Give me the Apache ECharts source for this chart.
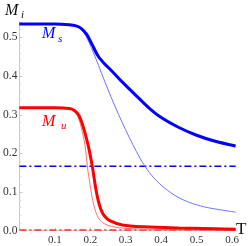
<!DOCTYPE html>
<html><head><meta charset="utf-8">
<script src="https://cdn.jsdelivr.net/npm/echarts@6/dist/echarts.min.js"></script>
<style>html,body{margin:0;padding:0;background:#fff}#c{width:249px;height:246px}</style>
</head><body><div id="c"></div>
<script>
const msThickT = [0, 0.05, 0.10, 0.14, 0.16, 0.175, 0.19, 0.205, 0.222, 0.24, 0.26, 0.29, 0.33, 0.37, 0.40, 0.45, 0.50, 0.55, 0.61];
const msThickV = [0.535, 0.535, 0.535, 0.533, 0.530, 0.523, 0.508, 0.482, 0.452, 0.432, 0.414, 0.385, 0.349, 0.314, 0.293, 0.267, 0.247, 0.232, 0.219];
const msThinT = [0, 0.10, 0.14, 0.16, 0.175, 0.19, 0.215, 0.25, 0.29, 0.33, 0.354, 0.38, 0.41, 0.445, 0.48, 0.52, 0.56, 0.61];
const msThinV = [0.535, 0.535, 0.533, 0.529, 0.520, 0.500, 0.447, 0.365, 0.280, 0.205, 0.167, 0.136, 0.110, 0.088, 0.073, 0.062, 0.055, 0.048];
const muThickT = [0, 0.10, 0.14, 0.155, 0.168, 0.178, 0.186, 0.196, 0.206, 0.215, 0.222, 0.23, 0.24, 0.255, 0.29, 0.35, 0.45, 0.61];
const muThickV = [0.318, 0.318, 0.316, 0.311, 0.298, 0.275, 0.250, 0.213, 0.165, 0.112, 0.080, 0.055, 0.038, 0.026, 0.015, 0.010, 0.007, 0.004];
const muThinT = [0, 0.10, 0.14, 0.155, 0.165, 0.175, 0.185, 0.192, 0.200, 0.207, 0.215, 0.225, 0.24, 0.26, 0.30, 0.40, 0.61];
const muThinV = [0.318, 0.318, 0.316, 0.310, 0.295, 0.265, 0.222, 0.165, 0.115, 0.078, 0.050, 0.030, 0.018, 0.011, 0.006, 0.003, 0.001];
const msRefT = [0, 0.61];
const msRefV = [0.167, 0.167];
const muRefT = [0, 0.61];
const muRefV = [0.002, 0.002];
const xTicks = [0.1, 0.2, 0.3, 0.4, 0.5, 0.6];
const yTicks = [0.0, 0.1, 0.2, 0.3, 0.4, 0.5];

const pairs = (t, v) => t.map((x, i) => [x, v[i]]);
const isTick = (val, ticks) => ticks.some(t => Math.abs(t - val) < 1e-6);
const serif = '"Liberation Serif", "DejaVu Serif", serif';
const chart = echarts.init(document.getElementById('c'), null, {renderer: 'canvas'});
const dashDot = [7, 3, 2, 3];
chart.setOption({
  animation: false,
  grid: {left: 16, right: 13.4, top: 22, bottom: 15.3, containLabel: false},
  xAxis: {
    type: 'value', min: 0, max: 0.61, interval: 0.1,
    axisLine: {show: true, lineStyle: {color: '#c8c8c8', width: 1}},
    axisTick: {show: true, inside: true, length: 3, lineStyle: {color: '#c8c8c8'}},
    minorTick: {show: true, splitNumber: 5, length: 2, lineStyle: {color: '#dddddd'}},
    splitLine: {show: false},
    axisLabel: {
      margin: 4, color: '#333', fontFamily: serif, fontSize: 11,
      formatter: v => isTick(v, xTicks) ? v.toFixed(1) : ''
    }
  },
  yAxis: {
    type: 'value', min: 0, max: 0.54, interval: 0.1,
    axisLine: {show: true, lineStyle: {color: '#c8c8c8', width: 1}},
    axisTick: {show: true, inside: true, length: 3, lineStyle: {color: '#c8c8c8'}},
    minorTick: {show: true, splitNumber: 5, length: 2, lineStyle: {color: '#dddddd'}},
    splitLine: {show: false},
    axisLabel: {
      margin: 2, color: '#333', fontFamily: serif, fontSize: 11.5,
      formatter: v => isTick(v, yTicks) ? v.toFixed(1) : ''
    }
  },
  series: [
    {type: 'line', data: pairs(muRefT, muRefV), symbol: 'none', lineStyle: {color: '#ff3030', width: 1.5, type: dashDot}},
    {type: 'line', data: pairs(msRefT, msRefV), symbol: 'none', lineStyle: {color: '#0000ff', width: 1.5, type: dashDot}},
    {type: 'line', data: pairs(msThinT, msThinV), symbol: 'none', smooth: 0.3, lineStyle: {color: '#7070ff', width: 1}},
    {type: 'line', data: pairs(muThinT, muThinV), symbol: 'none', smooth: 0.3, lineStyle: {color: '#ff7070', width: 1}},
    {type: 'line', data: pairs(msThickT, msThickV), symbol: 'none', smooth: 0.3, lineStyle: {color: '#0000ff', width: 3}},
    {type: 'line', data: pairs(muThickT, muThickV), symbol: 'none', smooth: 0.3, lineStyle: {color: '#ff0000', width: 3}}
  ],
  graphic: [
    {type: 'text', style: {text: 'M', x: 5, y: 11, font: 'italic 16px ' + serif, fill: '#111', textVerticalAlign: 'middle'}},
    {type: 'text', style: {text: 'i', x: 21, y: 15, font: 'italic 11px ' + serif, fill: '#111', textVerticalAlign: 'middle'}},
    {type: 'text', style: {text: 'M', x: 42, y: 34, font: 'italic 16px ' + serif, fill: '#0000ff', textVerticalAlign: 'middle'}},
    {type: 'text', style: {text: 's', x: 58, y: 39, font: 'italic 11px ' + serif, fill: '#0000ff', textVerticalAlign: 'middle'}},
    {type: 'text', style: {text: 'M', x: 42, y: 122, font: 'italic 16px ' + serif, fill: '#ff0000', textVerticalAlign: 'middle'}},
    {type: 'text', style: {text: 'u', x: 61, y: 126, font: 'italic 11px ' + serif, fill: '#ff0000', textVerticalAlign: 'middle'}},
    {type: 'text', style: {text: 'T', x: 236, y: 230, font: '17px ' + serif, fill: '#111', textVerticalAlign: 'middle'}}
  ]
});
</script></body></html>
